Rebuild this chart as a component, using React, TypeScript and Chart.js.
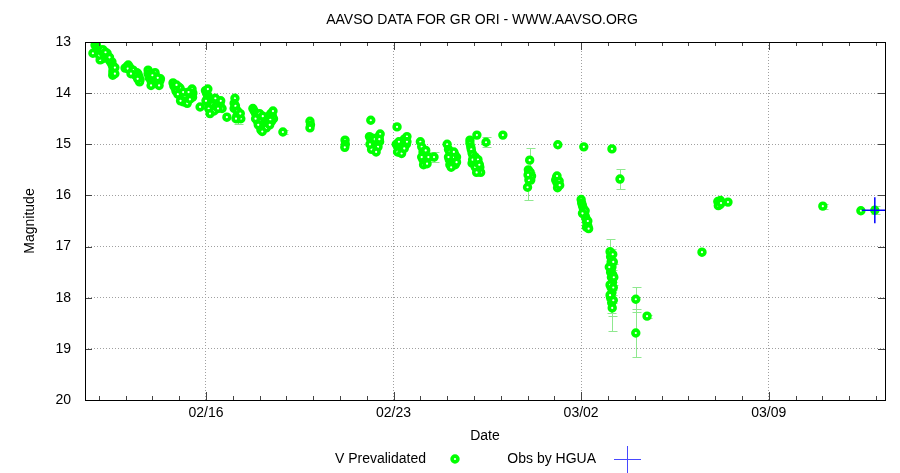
import React, { useEffect, useRef } from 'react';
import { Chart, registerables } from 'chart.js';

Chart.register(...registerables);

// x values: day counted from Feb 0 (Feb 16 = 16, Mar 2 = 30, Mar 9 = 37)
const xMin = 11.485;
const xMax = 41.34;
const yMin = 13;
const yMax = 20;
const majorDays = [16, 23, 30, 37];
const majorLabels = ['02/16', '02/23', '03/02', '03/09'];

const titleText = 'AAVSO DATA FOR GR ORI - WWW.AAVSO.ORG';
const xTitle = 'Date';
const yTitle = 'Magnitude';
const legendV = 'V Prevalidated';
const legendH = 'Obs by HGUA';

// V Prevalidated observations
const vDay = [
  11.78, 11.86, 11.90, 11.93, 11.97, 12.00, 12.04, 12.08, 12.10, 12.16, 12.20, 12.23, 12.27, 12.31, 12.12, 12.05, 12.45, 12.49, 12.50, 12.53, 12.53, 12.53, 12.52,
  12.98, 13.05, 13.10, 13.16, 13.20, 13.24, 13.30, 13.35, 13.42, 13.46, 13.50, 13.54, 13.52,
  13.84, 13.84, 13.88, 13.91, 13.95, 13.99, 14.02, 14.05, 14.10, 14.12, 14.17, 14.22, 14.28, 14.30,
  14.77, 14.80, 14.85, 14.92, 14.98, 15.03, 15.00, 15.06, 15.10, 15.16, 15.22, 15.28, 15.33, 15.38, 15.45, 15.48, 15.51, 15.50, 15.78,
  15.98, 16.02, 16.07, 16.08, 16.12, 16.15, 16.18, 16.22, 16.26, 16.30, 16.34, 16.40, 16.45, 16.50, 16.55, 16.60, 16.10, 16.20, 16.78,
  17.08, 17.05, 17.05, 17.10, 17.15, 17.20, 17.25, 17.30, 17.12,
  17.75, 17.80, 17.85, 17.90, 17.95, 17.98, 18.02, 18.08, 18.10, 18.15, 18.20, 18.25, 18.30, 18.35, 18.42, 18.48, 18.52, 18.45, 18.05, 18.87,
  19.88, 19.90, 19.88,
  21.19, 21.20, 21.18,
  22.15, 22.10, 22.15, 22.20, 22.25, 22.30, 22.35, 22.40, 22.45, 22.50, 22.48, 22.20, 22.28,
  23.13, 23.10, 23.15, 23.20, 23.25, 23.30, 23.35, 23.40, 23.45, 23.50, 23.48, 23.22,
  24.00, 24.05, 24.10, 24.15, 24.20, 24.25, 24.18, 24.10, 24.51,
  25.00, 25.05, 25.10, 25.12, 25.15, 25.20, 25.25, 25.30, 25.35, 25.28, 25.18,
  25.85, 26.11, 25.93, 25.93, 26.45, 25.85, 25.88, 25.90, 25.95, 26.00, 26.05, 26.10, 26.15, 26.20, 26.22, 27.08,
  28.08, 28.03, 28.05, 28.08, 28.10, 28.12, 28.15, 28.05, 28.00,
  29.05, 29.10, 29.15, 29.12, 29.08, 29.18, 29.13,
  30.10, 30.00, 30.02, 30.05, 30.08, 30.10, 30.12, 30.15, 30.18, 30.20, 30.22, 30.25, 30.20,
  31.15, 31.45,
  31.08, 31.10, 31.12, 31.15, 31.10, 31.13, 31.17, 31.12, 31.15, 31.10, 31.14, 31.16, 31.12, 31.18, 31.08,
  32.04, 32.04, 32.46,
  34.51, 35.10, 35.15, 35.20, 35.18, 35.12, 35.22, 35.48,
  39.02, 40.44, 40.96,
  13.08, 13.28, 13.38, 14.88, 15.12, 15.25, 15.42, 16.05, 16.25, 16.38, 16.52, 17.92, 18.00, 18.18, 18.28, 18.40, 22.22, 22.38, 23.28, 23.42, 25.08, 25.22, 26.05, 26.18, 28.10, 28.02, 12.02, 12.14, 12.40,
  14.95, 15.05, 15.20, 15.30, 15.15, 15.40, 14.90, 15.35,
  16.00, 16.10, 16.30, 16.45, 16.55, 16.35, 16.15,
  17.18, 17.28,
  17.85, 18.00, 18.12, 18.25, 18.38, 18.50, 18.10, 17.95,
  22.18, 22.30, 22.42, 22.35, 22.12, 22.47,
  23.15, 23.30, 23.40, 23.50, 23.20,
  24.05, 24.20, 24.30, 24.12, 24.25,
  25.05, 25.10, 25.30, 25.35, 25.15, 25.25,
  25.95, 26.05, 26.15, 26.25, 26.10, 26.20,
  29.10, 29.20,
  30.15, 30.25, 30.05, 30.28,
  31.20, 31.20, 31.05, 31.20, 31.08, 31.18, 31.22,
  12.15, 12.25, 12.40, 12.60, 12.60,
  13.45, 13.20,
  14.00, 14.20, 14.25, 13.95,
];

const vMag = [
  13.22, 13.06, 13.04, 13.10, 13.14, 13.18, 13.16, 13.22, 13.26, 13.25, 13.30, 13.31, 13.28, 13.22, 13.33, 13.35, 13.40, 13.39, 13.45, 13.50, 13.56, 13.60, 13.65,
  13.51, 13.48, 13.45, 13.50, 13.55, 13.58, 13.60, 13.62, 13.60, 13.62, 13.68, 13.74, 13.78,
  13.55, 13.62, 13.70, 13.66, 13.76, 13.82, 13.75, 13.70, 13.60, 13.72, 13.78, 13.80, 13.76, 13.72,
  13.80, 13.86, 13.90, 13.92, 13.88, 13.90, 14.00, 14.08, 14.13, 14.17, 14.17, 14.12, 14.13, 14.05, 13.98, 13.92, 14.00, 14.08, 14.27,
  13.95, 14.00, 13.92, 14.05, 14.10, 14.18, 14.25, 14.30, 14.28, 14.20, 14.15, 14.20, 14.18, 14.25, 14.27, 14.30, 14.22, 14.35, 14.47,
  14.10, 14.20, 14.30, 14.25, 14.45, 14.50, 14.48, 14.50, 14.50,
  14.30, 14.35, 14.40, 14.45, 14.50, 14.60, 14.65, 14.70, 14.60, 14.55, 14.60, 14.55, 14.50, 14.45, 14.40, 14.45, 14.50, 14.55, 14.72, 14.76,
  14.55, 14.62, 14.68,
  14.92, 15.00, 15.06,
  14.53, 14.85, 14.90, 14.95, 15.00, 15.05, 14.98, 14.92, 14.85, 14.80, 14.95, 15.05, 15.10,
  14.66, 15.00, 15.05, 15.10, 15.08, 15.00, 14.95, 14.90, 14.95, 14.85, 15.00, 15.15,
  14.95, 15.05, 15.15, 15.20, 15.25, 15.30, 15.35, 15.30, 15.25,
  15.00, 15.10, 15.15, 15.25, 15.30, 15.35, 15.40, 15.30, 15.25, 15.20, 15.40,
  14.92, 14.82, 15.17, 15.37, 14.96, 14.98, 15.05, 15.10, 15.20, 15.30, 15.35, 15.40, 15.45, 15.50, 15.45, 14.82,
  15.31, 15.50, 15.55, 15.60, 15.65, 15.70, 15.62, 15.70, 15.84,
  15.70, 15.75, 15.80, 15.85, 15.65, 15.72, 15.01,
  15.05, 16.08, 16.15, 16.20, 16.25, 16.30, 16.35, 16.40, 16.45, 16.50, 16.55, 16.60, 16.62,
  15.09, 15.68,
  17.10, 17.20, 17.30, 17.40, 17.50, 17.60, 17.70, 17.80, 17.90, 18.00, 18.10, 18.20, 17.45, 17.55, 17.75,
  18.03, 18.69, 18.36,
  17.11, 16.12, 16.15, 16.10, 16.18, 16.20, 16.15, 16.13,
  16.21, 16.30, 16.29,
  13.52, 13.55, 13.66, 13.96, 14.05, 14.10, 14.02, 14.10, 14.22, 14.25, 14.20, 14.55, 14.52, 14.65, 14.60, 14.52, 14.88, 15.05, 15.12, 15.02, 15.30, 15.25, 15.25, 15.38, 15.55, 15.60, 13.26, 13.20, 13.36,
  14.02, 14.15, 14.05, 14.20, 13.98, 14.12, 13.84, 13.98,
  14.15, 14.30, 14.35, 14.30, 14.15, 14.10, 14.40,
  14.35, 14.40,
  14.50, 14.40, 14.45, 14.68, 14.62, 14.35, 14.75, 14.62,
  15.10, 14.90, 15.05, 15.15, 15.00, 14.90,
  15.15, 15.18, 15.08, 14.95, 14.95,
  15.25, 15.12, 15.25, 15.40, 15.38,
  15.25, 15.40, 15.40, 15.35, 15.45, 15.15,
  15.30, 15.45, 15.30, 15.55, 15.55, 15.40,
  15.62, 15.80,
  16.30, 16.50, 16.35, 16.65,
  17.30, 17.80, 17.40, 18.05, 17.95, 17.15, 17.60,
  13.15, 13.20, 13.30, 13.50, 13.62,
  13.72, 13.62,
  13.65, 13.70, 13.85, 13.85,
];

// magnitude uncertainty (missing entries = no visible error bar)
const vErr = [
  0, 0, 0, 0, 0, 0, 0, 0, 0, 0, 0, 0, 0, 0, 0, 0, 0, 0, 0, 0, 0, 0, 0,
  0, 0, 0, 0, 0, 0, 0, 0, 0, 0, 0, 0, 0,
  0, 0, 0, 0, 0, 0, 0, 0, 0, 0, 0, 0, 0, 0,
  0, 0, 0, 0, 0, 0, 0, 0, 0, 0, 0, 0, 0, 0, 0, 0, 0, 0, 0,
  0, 0, 0, 0, 0, 0, 0, 0, 0, 0, 0, 0, 0, 0, 0, 0, 0, 0, 0,
  0, 0, 0, 0, 0, 0.1, 0, 0, 0,
  0, 0, 0, 0, 0, 0, 0, 0, 0, 0, 0, 0, 0, 0, 0, 0, 0, 0, 0, 0.04,
  0, 0, 0,
  0, 0, 0,
  0, 0, 0, 0, 0, 0, 0, 0, 0, 0, 0, 0, 0,
  0, 0, 0, 0, 0, 0, 0, 0, 0, 0, 0, 0,
  0, 0, 0, 0, 0, 0, 0, 0, 0.1,
  0, 0, 0, 0, 0, 0, 0, 0, 0, 0, 0,
  0, 0, 0, 0, 0.1, 0, 0, 0, 0, 0, 0, 0, 0, 0, 0, 0,
  0.23, 0, 0, 0, 0, 0, 0, 0, 0.25,
  0, 0, 0, 0, 0, 0, 0,
  0, 0, 0, 0, 0, 0, 0, 0, 0, 0, 0, 0, 0,
  0, 0.2,
  0.25, 0.15, 0.2, 0, 0.2, 0, 0.25, 0, 0.2, 0.3, 0.25, 0.45, 0, 0.2, 0.3,
  0.24, 0.46, 0.03,
  0, 0, 0, 0, 0, 0, 0, 0,
  0.05, 0, 0.08,
];

// Obs by HGUA
const hDay = [40.96];
const hMag = [16.29];

const FONT = '"Liberation Sans", Arial, Helvetica, sans-serif';
const GREEN = '#00ff00';
const ERR_COLOR = '#8fe88f';
const GRID_COLOR = '#a0a0a0';
const MARK_R = 2.9;
const MARK_W = 3.6;

const isMajor = (v: number) => majorDays.some((d) => Math.abs(d - v) < 1e-6);

const overlayPlugin = {
  id: 'overlay',
  beforeDatasetsDraw(chart: any) {
    const { ctx, chartArea } = chart;
    const xs = chart.scales.x;
    const ys = chart.scales.y;
    ctx.save();
    ctx.beginPath();
    ctx.rect(chartArea.left, chartArea.top, chartArea.right - chartArea.left, chartArea.bottom - chartArea.top);
    ctx.clip();
    ctx.strokeStyle = ERR_COLOR;
    ctx.lineWidth = 1;
    for (let i = 0; i < vDay.length; i++) {
      const e = vErr[i];
      if (!e) continue;
      const x = Math.round(xs.getPixelForValue(vDay[i])) + 0.5;
      const y1 = Math.round(ys.getPixelForValue(vMag[i] - e)) + 0.5;
      const y2 = Math.round(ys.getPixelForValue(vMag[i] + e)) + 0.5;
      ctx.beginPath();
      ctx.moveTo(x, y1);
      ctx.lineTo(x, y2);
      ctx.moveTo(x - 4, y1);
      ctx.lineTo(x + 5, y1);
      ctx.moveTo(x - 4, y2);
      ctx.lineTo(x + 5, y2);
      ctx.stroke();
    }
    ctx.restore();
  },
  afterDraw(chart: any) {
    const { ctx, chartArea } = chart;
    const { left, right, top, bottom } = chartArea;
    const xs = chart.scales.x;
    const ys = chart.scales.y;
    ctx.save();
    // tick marks (inward, mirrored)
    ctx.strokeStyle = '#444';
    ctx.lineWidth = 1;
    ctx.beginPath();
    for (let d = Math.ceil(xMin); d <= Math.floor(xMax); d++) {
      const px = Math.round(xs.getPixelForValue(d)) + 0.5;
      const len = isMajor(d) ? 8 : 4;
      ctx.moveTo(px, bottom);
      ctx.lineTo(px, bottom - len);
      ctx.moveTo(px, top);
      ctx.lineTo(px, top + len);
    }
    for (let m = yMin + 1; m < yMax; m++) {
      const py = Math.round(ys.getPixelForValue(m)) + 0.5;
      ctx.moveTo(left, py);
      ctx.lineTo(left + 7, py);
      ctx.moveTo(right, py);
      ctx.lineTo(right - 7, py);
    }
    ctx.stroke();
    // frame
    ctx.strokeStyle = '#000';
    ctx.strokeRect(Math.round(left) + 0.5, Math.round(top) + 0.5, Math.round(right - left), Math.round(bottom - top));

    // texts
    ctx.fillStyle = '#000';
    ctx.font = `14px ${FONT}`;
    ctx.textBaseline = 'middle';
    ctx.textAlign = 'center';
    ctx.fillText(titleText, 482, 20);
    ctx.fillText(xTitle, (left + right) / 2, 436);
    ctx.save();
    ctx.translate(30, (top + bottom) / 2);
    ctx.rotate(-Math.PI / 2);
    ctx.fillText(yTitle, 0, 0);
    ctx.restore();

    // legend
    ctx.textAlign = 'right';
    ctx.fillText(legendV, 426, 459);
    ctx.fillText(legendH, 596, 459);
    ctx.beginPath();
    ctx.arc(455, 459, MARK_R, 0, Math.PI * 2);
    ctx.fillStyle = '#fff';
    ctx.fill();
    ctx.lineWidth = MARK_W;
    ctx.strokeStyle = GREEN;
    ctx.stroke();
    ctx.lineWidth = 1;
    ctx.strokeStyle = '#4848ff';
    ctx.beginPath();
    ctx.moveTo(614, 459.5);
    ctx.lineTo(641, 459.5);
    ctx.moveTo(627.5, 446);
    ctx.lineTo(627.5, 473);
    ctx.stroke();
    ctx.restore();
  },
};

export default function App() {
  const canvasRef = useRef<HTMLCanvasElement | null>(null);

  useEffect(() => {
    const canvas = canvasRef.current;
    if (!canvas) return;
    const chart = new Chart(canvas, {
      type: 'scatter',
      data: {
        datasets: [
          {
            label: legendH,
            data: hDay.map((d, i) => ({ x: d, y: hMag[i] })),
            pointStyle: 'cross',
            pointRadius: 13,
            pointBorderWidth: 1.5,
            borderColor: '#0000ff',
            backgroundColor: '#0000ff',
            order: 0,
          },
          {
            label: legendV,
            data: vDay.map((d, i) => ({ x: d, y: vMag[i] })),
            pointStyle: 'circle',
            pointRadius: MARK_R,
            pointBorderWidth: MARK_W,
            borderColor: GREEN,
            backgroundColor: '#ffffff',
            order: 1,
          },
        ],
      },
      options: {
        responsive: false,
        animation: false,
        devicePixelRatio: 1,
        layout: { padding: { top: 42, right: 15, left: 0, bottom: 0 } },
        plugins: {
          legend: { display: false },
          tooltip: { enabled: false },
          title: { display: false },
        },
        scales: {
          x: {
            type: 'linear',
            min: xMin,
            max: xMax,
            border: { display: false, dash: [1, 2] },
            grid: {
              drawTicks: false,
              color: (c: any) => (c.tick && isMajor(c.tick.value) ? GRID_COLOR : 'rgba(0,0,0,0)'),
            },
            ticks: {
              stepSize: 1,
              autoSkip: false,
              maxRotation: 0,
              includeBounds: false,
              padding: 5,
              color: '#000',
              font: { family: FONT, size: 14 },
              callback: (v: any) => {
                const idx = majorDays.findIndex((d) => Math.abs(d - Number(v)) < 1e-6);
                return idx >= 0 ? majorLabels[idx] : '';
              },
            },
            afterFit: (s: any) => {
              s.height = 73;
            },
          },
          y: {
            type: 'linear',
            reverse: true,
            min: yMin,
            max: yMax,
            border: { display: false, dash: [1, 2] },
            grid: {
              drawTicks: false,
              color: (c: any) =>
                c.tick && c.tick.value > yMin && c.tick.value < yMax ? GRID_COLOR : 'rgba(0,0,0,0)',
            },
            ticks: {
              stepSize: 1,
              padding: 14,
              color: '#000',
              font: { family: FONT, size: 14 },
            },
            afterFit: (s: any) => {
              s.width = 85;
            },
          },
        },
      },
      plugins: [overlayPlugin],
    } as any);
    return () => chart.destroy();
  }, []);

  return (
    <div style={{ position: 'fixed', left: 0, top: 0, width: 900, height: 473, background: '#fff' }}>
      <canvas ref={canvasRef} width={900} height={473} style={{ display: 'block' }} />
    </div>
  );
}
